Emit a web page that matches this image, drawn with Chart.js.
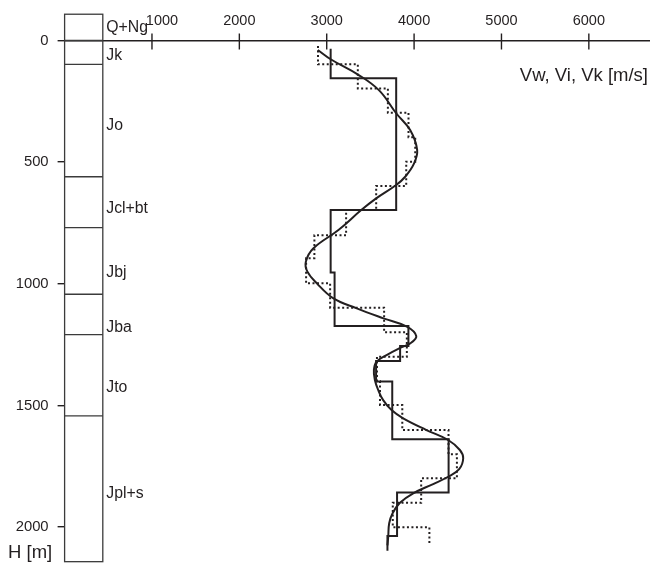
<!DOCTYPE html>
<html>
<head>
<meta charset="utf-8">
<script src="https://cdn.jsdelivr.net/npm/chart.js@4"></script>
<style>
  html, body { margin: 0; padding: 0; background: #fff; }
  #wrap { width: 650px; height: 563px; }
</style>
</head>
<body>
<div id="wrap"><canvas id="chart" width="650" height="563"></canvas></div>
<script>
'use strict';

// interval velocity (solid steps): top depth of each layer [m] and velocity [m/s]
const stepDepth = [34, 155, 697, 954, 1173, 1256, 1317, 1402, 1639, 1858, 2036, 2097];
const stepVel   = [3045, 3795, 3045, 3090, 3935, 3840, 3565, 3750, 4395, 3805, 3695, 3695];

// 100 m interval velocity (dotted steps)
const dotDepth = [23, 98, 197, 297, 398, 498, 598, 697, 800, 895, 998, 1098, 1199, 1300, 1400, 1498, 1601, 1700, 1799, 1900, 2001, 2074];
const dotVel   = [2900, 3356, 3700, 3936, 4013, 3910, 3566, 3222, 2859, 2764, 3039, 3657, 3917, 3575, 3610, 3865, 4394, 4490, 4081, 3756, 4175, 4175];

// smoothed velocity curve
const curveDepth = [39, 77, 140, 205, 299, 368, 450, 505, 560, 594, 649, 697, 779, 854, 909, 950, 998, 1060, 1101, 1142, 1176, 1215, 1245, 1265, 1293, 1320, 1354, 1395, 1436, 1478, 1519, 1553, 1601, 1642, 1683, 1717, 1762, 1793, 1823, 1861, 1900, 1943, 1984, 2039, 2075];
const curveVel   = [2898, 3045, 3358, 3600, 3795, 3955, 4035, 4000, 3898, 3795, 3566, 3395, 3134, 2848, 2761, 2779, 2887, 3077, 3344, 3649, 3917, 4025, 3955, 3830, 3685, 3571, 3540, 3551, 3589, 3646, 3742, 3875, 4141, 4390, 4524, 4562, 4516, 4390, 4218, 3990, 3838, 3754, 3715, 3704, 3695];

// tick labels
const velTicks = [1000, 2000, 3000, 4000, 5000, 6000];
const depthTicks = [0, 500, 1000, 1500, 2000];

// stratigraphic column
const columnTop = -108;
const columnBottom = 2142;
const layerBounds = [0, 98, 560, 769, 1043, 1209, 1543];
const formations = ['Q+Ng', 'Jk', 'Jo', 'Jcl+bt', 'Jbj', 'Jba', 'Jto', 'Jpl+s'];
const formationDepth = [-51, 61, 350, 691, 953, 1180, 1427, 1861];

const xTitle = 'Vw, Vi, Vk [m/s]';
const yTitle = 'H [m]';

const ink = '#231f20';
const sans = '"Liberation Sans", Arial, Helvetica, sans-serif';

function pts(vs, hs) {
  return vs.map((v, i) => ({ x: v, y: hs[i] }));
}

const overlay = {
  id: 'overlay',
  afterDraw(chart) {
    const { ctx, chartArea: a, scales } = chart;
    const x = scales.x, y = scales.y;
    const line = (x1, y1, x2, y2) => {
      ctx.beginPath(); ctx.moveTo(x1, y1); ctx.lineTo(x2, y2); ctx.stroke();
    };
    ctx.save();

    // column
    ctx.strokeStyle = '#3b3b3b';
    ctx.lineWidth = 1.3;
    const colL = a.left, colR = a.left + 38.2;
    const t = y.getPixelForValue(columnTop), b = y.getPixelForValue(columnBottom);
    ctx.strokeRect(colL, t, colR - colL, b - t);
    layerBounds.forEach(h => {
      const py = y.getPixelForValue(h);
      line(colL, py, colR, py);
    });

    // x tick marks crossing the axis, labels above
    ctx.strokeStyle = ink;
    ctx.fillStyle = ink;
    ctx.lineWidth = 1.4;
    ctx.font = '14.5px ' + sans;
    ctx.textAlign = 'center';
    ctx.textBaseline = 'middle';
    velTicks.forEach((v, i) => {
      const px = x.getPixelForValue(v);
      line(px, a.top - 7, px, a.top + 9);
      // first label nudged right, clear of the column caption
      ctx.fillText(String(v), px + (i === 0 ? 10 : 0), 20.5);
    });

    // formation names
    ctx.font = '15.8px ' + sans;
    ctx.textAlign = 'left';
    formations.forEach((f, i) => {
      ctx.fillText(f, colR + 3.5, y.getPixelForValue(formationDepth[i]));
    });

    // axis titles
    ctx.font = '18.5px ' + sans;
    ctx.textAlign = 'right';
    ctx.fillText(xTitle, a.right - 2, 76);
    ctx.textAlign = 'left';
    ctx.fillText(yTitle, 8, 553);
    ctx.restore();
  }
};

new Chart(document.getElementById('chart'), {
  type: 'scatter',
  data: {
    datasets: [{
      label: 'Vi',
      data: pts(stepVel, stepDepth),
      showLine: true,
      stepped: 'after',
      borderColor: ink,
      borderWidth: 2,
      pointRadius: 0
    }, {
      label: 'Vw',
      data: pts(dotVel, dotDepth),
      showLine: true,
      stepped: 'after',
      borderColor: ink,
      borderWidth: 2,
      borderDash: [2, 2.5],
      pointRadius: 0
    }, {
      label: 'Vk',
      data: pts(curveVel, curveDepth),
      showLine: true,
      tension: 0.4,
      borderColor: ink,
      borderWidth: 2,
      pointRadius: 0
    }]
  },
  options: {
    responsive: false,
    animation: false,
    layout: { padding: { left: 0, right: 0, top: 0, bottom: 0.6 } },
    plugins: { legend: { display: false }, tooltip: { enabled: false } },
    scales: {
      x: {
        type: 'linear',
        position: 'top',
        min: 0,
        max: 6700,
        afterBuildTicks: s => { s.ticks = velTicks.map(v => ({ value: v })); },
        afterFit: s => { s.height = 40.5; s.paddingLeft = 0; s.paddingRight = 0; },
        grid: { display: false, drawTicks: false },
        border: { display: true, color: ink, width: 1.5 },
        ticks: { display: false }
      },
      y: {
        type: 'linear',
        reverse: true,
        min: 0,
        max: 2145,
        afterBuildTicks: s => { s.ticks = depthTicks.map(v => ({ value: v })); },
        afterFit: s => { s.width = 64.6; s.paddingTop = 0; s.paddingBottom = 0; },
        grid: { drawOnChartArea: false, drawTicks: true, tickLength: 7, color: ink, lineWidth: 1.4 },
        border: { display: false },
        ticks: {
          padding: 9,
          color: ink,
          autoSkip: false,
          font: { family: sans, size: 14.8 },
          callback: v => String(v)
        }
      }
    }
  },
  plugins: [overlay]
});
</script>
</body>
</html>
